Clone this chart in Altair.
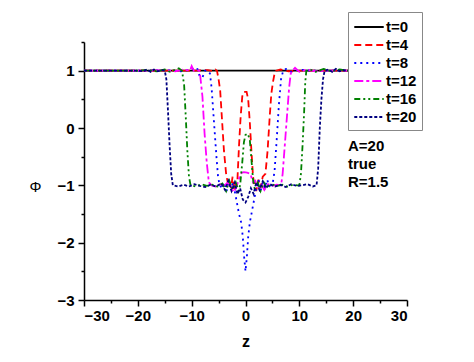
import altair as alt
import pandas as pd

series_names = ["t=0", "t=4", "t=8", "t=12", "t=16", "t=20"]
series_colors = ["#000000", "#ff0000", "#0000ff", "#ff00ff", "#008000", "#000080"]
series_dashes = [[1, 0], [7, 4], [2, 4], [9, 3, 3, 3], [6, 3, 2, 3, 2, 3], [3, 2]]

z_t0 = [-30, 30]
phi_t0 = [1, 1]

z_t4 = [-30, -15, -10, -7, -6, -5.6, -5.3, -5.0, -4.7, -4.4,
        -4.0, -3.6, -3.3, -3.0, -2.7, -2.4, -2.1, -1.8, -1.5, -1.2,
        -0.9, -0.6, -0.3, 0.2, 0.5, 0.8, 1.1, 1.4, 1.7, 2.0,
        2.4, 2.8, 3.2, 3.7, 4.1, 4.5, 4.8, 5.1, 5.4, 5.7,
        6.5, 8, 10, 15, 30]
phi_t4 = [1, 1, 1, 1.01, 0.99, 1.02, 1.0, 0.85, 0.65, 0.2,
          -0.4, -0.8, -0.95, -0.9, -1.05, -0.85, -1.1, -0.95, -0.9, -0.3,
          0.2, 0.55, 0.63, 0.63, 0.5, 0.1, -0.4, -0.85, -1.0, -1.1,
          -0.9, -1.05, -0.85, -0.8, -0.4, 0.2, 0.6, 0.8, 0.95, 1.0,
          1.02, 0.99, 1.0, 1.0, 1.0]

z_t8 = [-30, -18, -15, -12, -10, -9, -8.5, -8.0, -7.5, -7.0,
        -6.6, -6.3, -6.0, -5.7, -5.4, -5.1, -4.8,
        -4.3, -3.9, -3.5, -3.1, -2.7, -2.3, -2.0,
        -1.6, -1.2, -0.8, -0.5, -0.25, 0, 0.25, 0.5, 0.8, 1.2, 1.6, 2.0,
        2.4, 2.8, 3.2, 3.6, 4.0, 4.4,
        5.0, 5.4, 5.8, 6.2, 6.6, 7.0,
        7.5, 8.5, 10, 12, 15, 30]
phi_t8 = [1, 1, 1.01, 0.99, 1.02, 1.05, 0.9, 0.88, 1.0, 1.0,
          0.95, 0.7, 0.3, -0.1, -0.5, -0.85, -1.0,
          -1.05, -0.95, -1.1, -0.9, -1.05, -0.95, -1.1,
          -1.3, -1.5, -1.65, -1.9, -2.25, -2.5, -2.25, -1.9, -1.65, -1.45, -1.25, -1.05,
          -0.9, -1.1, -0.95, -1.05, -0.9, -1.0,
          -1.0, -0.75, -0.2, 0.4, 0.85, 1.0,
          1.03, 0.98, 1.02, 1.0, 1.0, 1.0]

z_t12 = [-30, -18, -15, -13, -11.5, -10.3, -10.0, -9.6, -9.0, -8.6,
         -8.4, -8.0, -7.6, -7.2, -6.8, -6.3,
         -5.5, -4.7, -4.0, -3.3, -2.7, -2.1, -1.6, -1.1, -0.7, -0.3,
         0.3, 0.9, 1.4, 1.8, 2.3, 2.9, 3.5, 4.2, 5.0, 5.8,
         6.6, 6.9, 7.3, 7.7, 8.1, 8.4, 8.7,
         9.2, 10, 11.5, 13, 15, 30]
phi_t12 = [1, 1, 1.01, 0.99, 1.02, 1.0, 1.08, 1.0, 1.01, 1.0,
           0.9, 0.55, -0.1, -0.6, -0.95, -1.0,
           -1.02, -0.98, -1.01, -0.95, -1.05, -1.12, -1.0, -0.85, -0.78, -0.77,
           -0.78, -0.8, -0.95, -0.92, -1.05, -0.97, -1.08, -0.98, -1.01, -0.99,
           -1.0, -0.8, -0.3, 0.2, 0.7, 0.95, 1.0,
           1.05, 0.98, 1.02, 0.99, 1.0, 1.0]

z_t16 = [-30, -20, -18, -16.5, -15, -14, -13, -12.4,
         -11.8, -11.4, -11.1, -10.8, -10.5, -10.2,
         -9.2, -8.2, -7.2, -6.2, -5.2,
         -4.3, -3.6, -3.0, -2.4, -1.8, -1.3,
         -1.0, -0.6, -0.3, 0.0, 0.4, 0.8, 1.1, 1.4, 1.7,
         2.2, 2.8, 3.4, 4.0, 4.8,
         5.8, 6.8, 7.8, 8.8, 9.6,
         10.0, 10.3, 10.6, 10.9, 11.1, 11.3,
         12, 13, 14.5, 16, 17.5, 19, 30]
phi_t16 = [1, 1, 1.01, 0.99, 1.02, 0.98, 1.02, 1.04,
           1.0, 0.75, 0.2, -0.4, -0.85, -1.0,
           -1.02, -0.98, -1.01, -0.99, -1.02,
           -0.97, -1.1, -0.92, -1.08, -0.95, -1.1,
           -1.0, -0.6, -0.25, -0.12, -0.1, -0.2, -0.55, -0.9, -1.05,
           -0.92, -1.1, -0.95, -1.05, -0.98,
           -1.01, -0.99, -1.02, -0.99, -1.0,
           -1.0, -0.8, -0.3, 0.3, 0.8, 1.0,
           1.02, 0.98, 1.03, 0.99, 1.02, 1.0, 1.0]

z_t20 = [-30, -20, -19, -18.3, -17.6, -17, -16.3, -15.6, -15.0, -14.7,
         -14.4, -14.1, -13.8, -13.5, -12.5, -11.5, -10.5, -9.5, -8.5, -7.5,
         -6.5, -5.5, -4.5, -3.8, -3.2, -2.6, -2.0, -1.5, -1.0, -0.5,
         0, 0.5, 1.0, 1.5, 2.0, 2.6, 3.2, 3.8, 4.5, 5.5,
         6.5, 7.5, 8.5, 9.5, 10.5, 11.5, 12.5, 13.2, 13.5, 13.8,
         14.1, 14.4, 14.7, 15.4, 16.1, 16.8, 17.5, 18.2, 19, 20, 30]
phi_t20 = [1, 1, 0.99, 1.02, 0.98, 1.02, 0.99, 1.01, 1.0, 0.85,
           0.3, -0.3, -0.8, -1.0, -1.02, -0.99, -1.02, -0.98, -1.01, -1.03,
           -0.99, -1.02, -0.97, -1.08, -0.92, -1.1, -0.95, -1.15, -1.05, -1.25,
           -1.3, -1.2, -1.05, -1.15, -0.95, -1.08, -0.93, -1.05, -0.98, -1.02,
           -0.99, -1.03, -0.98, -1.01, -1.0, -0.98, -1.02, -1.0, -0.7, 0.0,
           0.5, 0.85, 1.0, 1.02, 0.98, 1.03, 0.99, 1.01, 1.0, 1.0, 1.0]

x_major = [-30, -20, -10, 0, 10, 20, 30]
x_minor = [-25, -15, -5, 5, 15, 25]
y_major = [-3, -2, -1, 0, 1]
y_minor = [-2.5, -1.5, -0.5, 0.5, 1.5]
note_lines = ["A=20", "true", "R=1.5"]

all_z = [z_t0, z_t4, z_t8, z_t12, z_t16, z_t20]
all_phi = [phi_t0, phi_t4, phi_t8, phi_t12, phi_t16, phi_t20]
rows = []
for k, (name, zs, ps) in enumerate(zip(series_names, all_z, all_phi)):
    assert len(zs) == len(ps), name
    for i, (zv, pv) in enumerate(zip(zs, ps)):
        rows.append({"series": name, "order": k, "idx": i, "z": zv, "phi": pv})
df = pd.DataFrame(rows)

FONT = "Liberation Sans"
xscale = alt.Scale(domain=[-30, 30], nice=False, zero=False)
yscale = alt.Scale(domain=[-3, 1.5], nice=False, zero=False)

lines = alt.Chart(df).mark_line(strokeWidth=1.8, clip=True).encode(
    x=alt.X("z:Q", scale=xscale, axis=alt.Axis(
        values=x_major, title="z", titleFontSize=16, titleFontWeight="bold",
        titleFont=FONT, titlePadding=10, labelPadding=2, tickSize=6)),
    y=alt.Y("phi:Q", scale=yscale, axis=alt.Axis(
        values=y_major, title="Φ", titleAngle=0, titleFontSize=15,
        titleFontWeight="normal", titleFont=FONT, titleX=-49, titleY=144,
        titleAlign="center", titleBaseline="middle", labelPadding=4, tickSize=6)),
    color=alt.Color("series:N", scale=alt.Scale(domain=series_names, range=series_colors),
                    legend=alt.Legend(title=None, orient="none", legendX=264, legendY=-30,
                                      fillColor="white", strokeColor="#888888", padding=5,
                                      symbolType="M-1.7,0H1.7", symbolSize=300,
                                      symbolStrokeWidth=1.8, symbolOffset=6,
                                      labelFontSize=15, labelFontWeight="bold", labelFont=FONT,
                                      labelColor="black", rowPadding=0, labelOffset=7,
                                      labelLimit=60)),
    strokeDash=alt.StrokeDash("series:N", scale=alt.Scale(domain=series_names, range=series_dashes),
                              legend=None),
    detail="series:N",
    order="idx:Q",
)

minor = alt.Chart(df).mark_line(opacity=0).encode(
    x=alt.X("z:Q", scale=xscale, axis=alt.Axis(values=x_minor, labels=False, domain=False,
                                               title=None, tickSize=3, orient="bottom")),
    y=alt.Y("phi:Q", scale=yscale, axis=alt.Axis(values=y_minor, labels=False, domain=False,
                                                 title=None, tickSize=3, orient="left")),
    detail="series:N",
)

note = alt.Chart(alt.Data(values=[{"k": 1}])).mark_text(
    text=note_lines, align="left", baseline="top", fontSize=15, fontWeight="bold",
    font=FONT, lineHeight=18, color="black"
).encode(x=alt.value(264), y=alt.value(97))

chart = alt.layer(lines, minor, note).resolve_axis(x="independent", y="independent").properties(
    width=323, height=258,
    autosize=alt.AutoSizeParams(type="none"),
    padding={"left": 76, "top": 34, "right": 59, "bottom": 54},
).configure_view(stroke=None).configure_axis(
    grid=False, domainColor="black", domainWidth=1.5, tickColor="black", tickWidth=1.5,
    labelFont=FONT, labelFontSize=15, labelFontWeight="bold", labelColor="black",
    titleColor="black",
)

chart.save("out.html", embed_options={"renderer": "svg", "actions": False})
